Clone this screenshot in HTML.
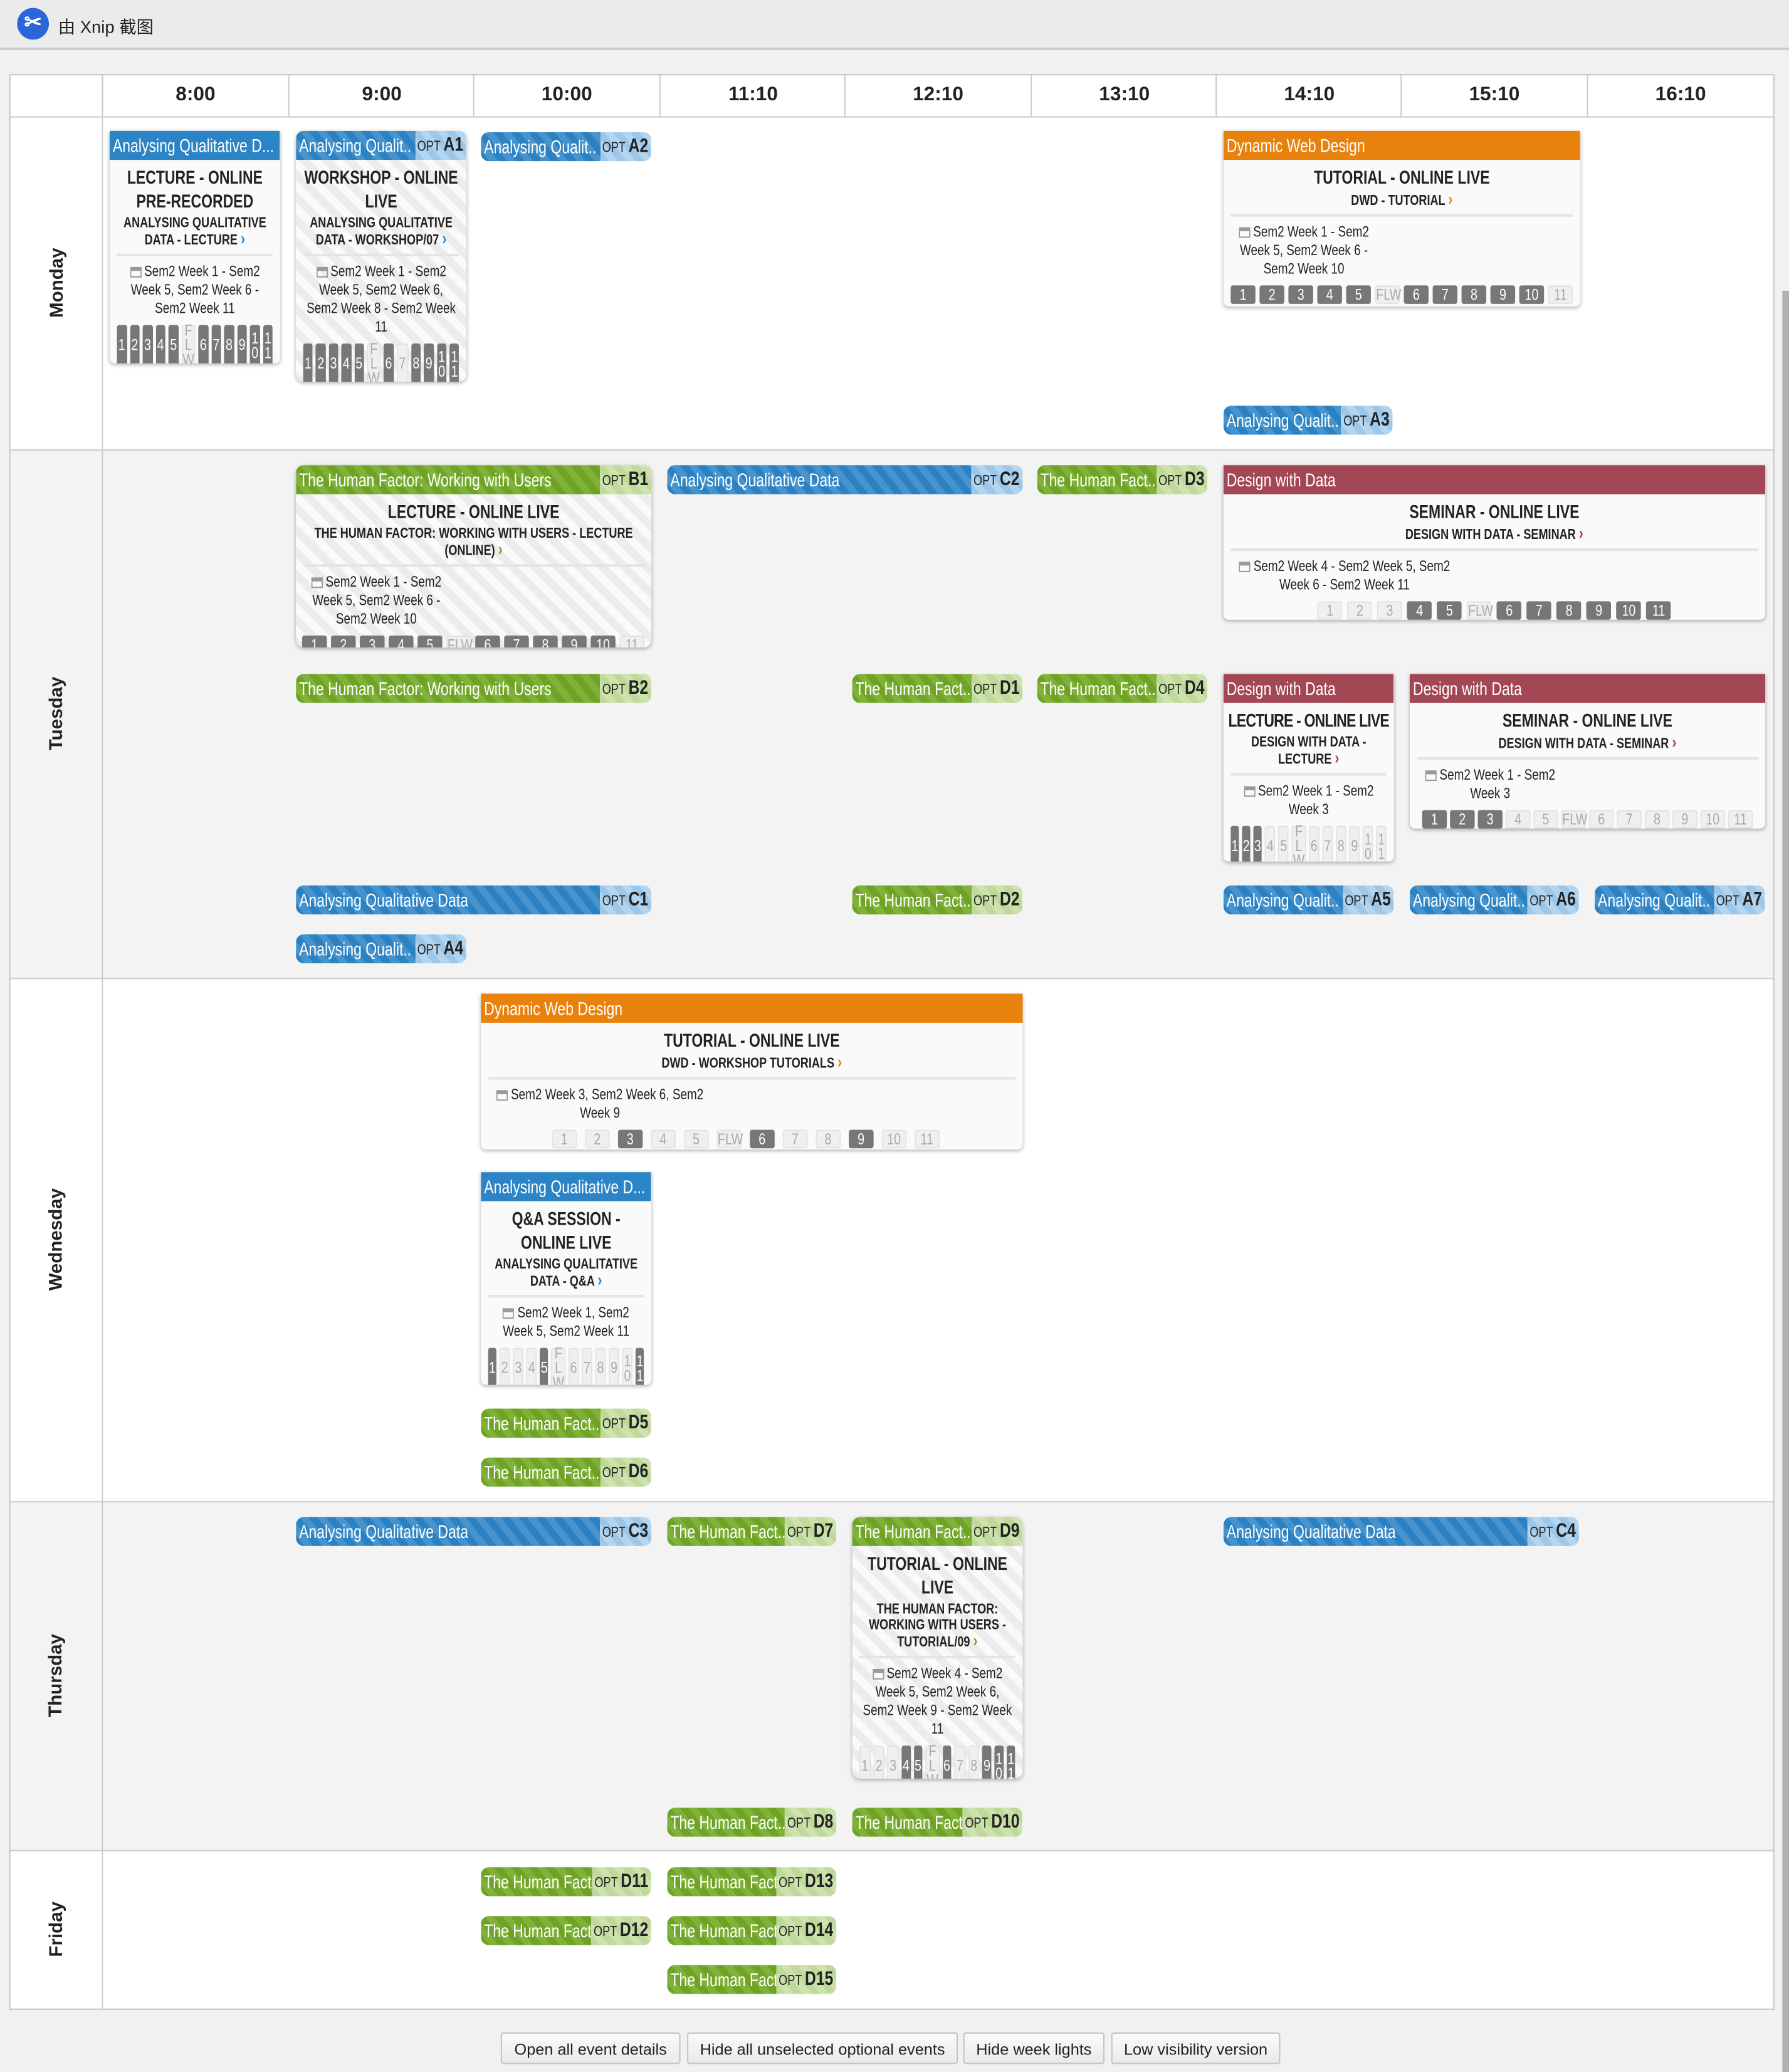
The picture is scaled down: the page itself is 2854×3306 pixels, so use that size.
<!DOCTYPE html>
<html><head><meta charset="utf-8">
<style>
body{margin:0;width:2854px;height:3306px;overflow:hidden;background:#f1f1f1}
#w{position:absolute;left:0;top:0;width:1354px;height:1568px;transform:scale(2.1078,2.1084);transform-origin:0 0;font-family:"Liberation Sans",sans-serif;color:#222}
.a{position:absolute}
.in{width:128.2%;transform:scaleX(.78);transform-origin:0 0}
.pill{position:absolute;height:22px;border-radius:6px;overflow:hidden}
.pill .in{display:flex;height:22px;font-size:14px;line-height:22px}
.n{flex:1;color:#fff;padding-left:3px;white-space:nowrap;overflow:hidden;text-align:left}
.blue .n{background:repeating-linear-gradient(45deg,#2b81c2 0 6px,#4693cd 6px 12px)}
.blue .o{background:repeating-linear-gradient(45deg,#9cc7e9 0 6px,#b3d5f0 6px 12px)}
.green .n{background:repeating-linear-gradient(45deg,#6ea326 0 6px,#80b139 6px 12px)}
.green .o{background:repeating-linear-gradient(45deg,#bfd99a 0 6px,#cde2ad 6px 12px)}
.o{color:#222;font-size:11px;padding:0 3px 0 2px;white-space:nowrap}
.o b{font-size:15px}
.card{position:absolute;background:#fafafa;box-shadow:0 1px 3px rgba(0,0,0,.3);border-radius:0 0 4px 4px;text-align:center;overflow:hidden}
.card.opt{background:repeating-linear-gradient(45deg,#ececec 0 6px,#fafafa 6px 12px);border-radius:6px}
.card .pill{position:relative;border-radius:0;width:100%}
.card .pill .in{width:100%;transform:none}
.hd{height:22px;line-height:22px;color:#fff;font-size:14px;text-align:left;padding-left:3px;white-space:nowrap;overflow:hidden}
.t{font-weight:bold;font-size:14px;line-height:18px;margin-top:4px}
.s{font-weight:bold;font-size:11px;line-height:12px;padding-bottom:4px;border-bottom:2px solid #e4e4e4;margin:2px 7px 0}
.s i{font-style:normal;font-size:13px}
.d{font-size:11.5px;line-height:14px;margin:5px 7px 5px}
.d:before{content:"";display:inline-block;width:11px;height:8px;border:1px solid #999;border-top:3px solid #999;margin-right:3px;vertical-align:-1px;box-sizing:border-box}
.wk{display:flex;gap:3px;margin:0 7px}
.wk i{flex:1;font-style:normal;height:31px;border-radius:2px;font-size:12px;line-height:11px;display:flex;align-items:center;justify-content:center;text-align:center;background:#777;color:#fff}
.wk i.l{background:#efefef;color:#aaa;border:1px solid #e2e2e2;box-sizing:border-box}
.wh{display:flex;gap:4px;justify-content:center}
.wh i{width:24px;height:14px;font-style:normal;font-size:12px;line-height:14px;background:#777;color:#fff;border-radius:2px}
.wh i.l{background:#efefef;color:#aaa;border:1px solid #e2e2e2;box-sizing:border-box;line-height:12px}
.btn{position:absolute;top:1538px;height:24px;line-height:24px;font-size:12px;text-align:center;background:linear-gradient(#fafafa,#eaeaea);border:1px solid #c4c4c4;border-radius:2px;box-sizing:border-box;white-space:nowrap}
.day{position:absolute;left:7px;width:70px;display:flex;align-items:center;justify-content:center}
.day span{transform:rotate(-90deg);font-weight:bold;font-size:14px;white-space:nowrap}
.tm{position:absolute;top:56px;height:32px;line-height:32px;width:140px;text-align:center;font-weight:bold;font-size:15px;border-left:1px solid #ccc}
</style></head><body><div id="w">

<div class="a" style="left:0;top:0;width:1354px;height:36px;background:#ebebeb;border-bottom:2px solid #cdcdcd"></div>
<div class="a" style="left:13px;top:6px;width:24px;height:24px;border-radius:50%;background:#2a66d8;color:#fff;font-size:16px;line-height:24px;text-align:center;font-weight:bold">✂</div>
<div class="a" style="left:44px;top:10px;font-size:13px;font-family:'Liberation Sans','Noto Sans CJK SC',sans-serif">由 Xnip 截图</div>

<div class="a" style="left:7px;top:56px;width:1334px;height:1463px;background:#fff;border:1px solid #c8c8c8"></div>
<div class="a" style="left:8px;top:341px;width:1334px;height:399px;background:#f3f3f3"></div>
<div class="a" style="left:8px;top:1137px;width:1334px;height:263px;background:#f3f3f3"></div>
<div class="a" style="left:7px;top:88px;width:1335px;border-top:1px solid #ccc"></div>
<div class="a" style="left:7px;top:340px;width:1335px;border-top:1px solid #ccc"></div>
<div class="a" style="left:7px;top:740px;width:1335px;border-top:1px solid #ccc"></div>
<div class="a" style="left:7px;top:1136px;width:1335px;border-top:1px solid #ccc"></div>
<div class="a" style="left:7px;top:1400px;width:1335px;border-top:1px solid #ccc"></div>
<div class="a" style="left:77px;top:56px;height:1464px;border-left:1px solid #ccc"></div>
<div class="tm" style="left:77px">8:00</div><div class="tm" style="left:218px">9:00</div><div class="tm" style="left:358px">10:00</div><div class="tm" style="left:499px">11:10</div><div class="tm" style="left:639px">12:10</div><div class="tm" style="left:780px">13:10</div><div class="tm" style="left:920px">14:10</div><div class="tm" style="left:1060px">15:10</div><div class="tm" style="left:1201px">16:10</div>

<div class="day" style="top:88px;height:252px"><span>Monday</span></div>
<div class="day" style="top:340px;height:400px"><span>Tuesday</span></div>
<div class="day" style="top:740px;height:396px"><span>Wednesday</span></div>
<div class="day" style="top:1136px;height:264px"><span>Thursday</span></div>
<div class="day" style="top:1400px;height:120px"><span>Friday</span></div>

<!-- Monday -->
<div class="card" style="left:83px;top:99px;width:129px;height:176px"><div class="in">
<div class="hd" style="background:#2a84c6">Analysing Qualitative D...</div>
<div class="t">LECTURE - ONLINE<br>PRE-RECORDED</div>
<div class="s">ANALYSING QUALITATIVE DATA - LECTURE <i style="color:#2a84c6">›</i></div>
<div class="d">Sem2 Week 1 - Sem2 Week 5, Sem2 Week 6 - Sem2 Week 11</div>
<div class="wk"><i>1</i><i>2</i><i>3</i><i>4</i><i>5</i><i class="l">F<br>L<br>W</i><i>6</i><i>7</i><i>8</i><i>9</i><i>1<br>0</i><i>1<br>1</i></div>
</div></div>
<div class="card opt" style="left:224px;top:99px;width:129px;height:190px"><div class="in">
<div class="pill blue"><div class="in"><div class="n">Analysing Qualit..</div><div class="o">OPT <b>A1</b></div></div></div>
<div class="t">WORKSHOP - ONLINE<br>LIVE</div>
<div class="s">ANALYSING QUALITATIVE DATA - WORKSHOP/07 <i style="color:#2a84c6">›</i></div>
<div class="d">Sem2 Week 1 - Sem2 Week 5, Sem2 Week 6, Sem2 Week 8 - Sem2 Week 11</div>
<div class="wk"><i>1</i><i>2</i><i>3</i><i>4</i><i>5</i><i class="l">F<br>L<br>W</i><i>6</i><i class="l">7</i><i>8</i><i>9</i><i>1<br>0</i><i>1<br>1</i></div>
</div></div>
<div class="pill blue" style="left:364px;top:100px;width:129px"><div class="in"><div class="n">Analysing Qualit..</div><div class="o">OPT <b>A2</b></div></div></div>
<div class="card" style="left:926px;top:99px;width:270px;height:133px"><div class="in">
<div class="hd" style="background:#e9820c">Dynamic Web Design</div>
<div class="t">TUTORIAL - ONLINE LIVE</div>
<div class="s">DWD - TUTORIAL <i style="color:#e9820c">›</i></div>
<div class="d" style="width:136px;margin-left:10px">Sem2 Week 1 - Sem2 Week 5, Sem2 Week 6 - Sem2 Week 10</div>
<div class="wh"><i>1</i><i>2</i><i>3</i><i>4</i><i>5</i><i class="l">FLW</i><i>6</i><i>7</i><i>8</i><i>9</i><i>10</i><i class="l">11</i></div>
</div></div>
<div class="pill blue" style="left:926px;top:307px;width:128px"><div class="in"><div class="n">Analysing Qualit..</div><div class="o">OPT <b>A3</b></div></div></div>

<!-- Tuesday -->
<div class="card opt" style="left:224px;top:352px;width:269px;height:138px"><div class="in">
<div class="pill green"><div class="in"><div class="n">The Human Factor: Working with Users</div><div class="o">OPT <b>B1</b></div></div></div>
<div class="t">LECTURE - ONLINE LIVE</div>
<div class="s">THE HUMAN FACTOR: WORKING WITH USERS - LECTURE (ONLINE) <i style="color:#6ea326">›</i></div>
<div class="d" style="width:136px;margin-left:10px">Sem2 Week 1 - Sem2 Week 5, Sem2 Week 6 - Sem2 Week 10</div>
<div class="wh" style="justify-content:flex-start;margin-left:6px"><i>1</i><i>2</i><i>3</i><i>4</i><i>5</i><i class="l">FLW</i><i>6</i><i>7</i><i>8</i><i>9</i><i>10</i><i class="l">11</i></div>
</div></div>
<div class="pill blue" style="left:505px;top:352px;width:269px"><div class="in"><div class="n">Analysing Qualitative Data</div><div class="o">OPT <b>C2</b></div></div></div>
<div class="pill green" style="left:785px;top:352px;width:129px"><div class="in"><div class="n">The Human Fact..</div><div class="o">OPT <b>D3</b></div></div></div>
<div class="card" style="left:926px;top:352px;width:410px;height:117px"><div class="in">
<div class="hd" style="background:#a24753">Design with Data</div>
<div class="t">SEMINAR - ONLINE LIVE</div>
<div class="s">DESIGN WITH DATA - SEMINAR <i style="color:#a24753">›</i></div>
<div class="d" style="width:215px;margin-left:10px">Sem2 Week 4 - Sem2 Week 5, Sem2 Week 6 - Sem2 Week 11</div>
<div class="wh" style="gap:5px"><i class="l">1</i><i class="l">2</i><i class="l">3</i><i>4</i><i>5</i><i class="l">FLW</i><i>6</i><i>7</i><i>8</i><i>9</i><i>10</i><i>11</i></div>
</div></div>
<div class="pill green" style="left:224px;top:510px;width:269px"><div class="in"><div class="n">The Human Factor: Working with Users</div><div class="o">OPT <b>B2</b></div></div></div>
<div class="pill green" style="left:645px;top:510px;width:129px"><div class="in"><div class="n">The Human Fact..</div><div class="o">OPT <b>D1</b></div></div></div>
<div class="pill green" style="left:785px;top:510px;width:129px"><div class="in"><div class="n">The Human Fact..</div><div class="o">OPT <b>D4</b></div></div></div>
<div class="card" style="left:926px;top:510px;width:129px;height:142px"><div class="in">
<div class="hd" style="background:#a24753">Design with Data</div>
<div class="t" style="letter-spacing:-0.5px;white-space:nowrap">LECTURE - ONLINE LIVE</div>
<div class="s">DESIGN WITH DATA - LECTURE <i style="color:#a24753">›</i></div>
<div class="d">Sem2 Week 1 - Sem2 Week 3</div>
<div class="wk"><i>1</i><i>2</i><i>3</i><i class="l">4</i><i class="l">5</i><i class="l">F<br>L<br>W</i><i class="l">6</i><i class="l">7</i><i class="l">8</i><i class="l">9</i><i class="l">1<br>0</i><i class="l">1<br>1</i></div>
</div></div>
<div class="card" style="left:1067px;top:510px;width:269px;height:117px"><div class="in">
<div class="hd" style="background:#a24753">Design with Data</div>
<div class="t">SEMINAR - ONLINE LIVE</div>
<div class="s">DESIGN WITH DATA - SEMINAR <i style="color:#a24753">›</i></div>
<div class="d" style="width:136px;margin-left:10px">Sem2 Week 1 - Sem2 Week 3</div>
<div class="wh" style="gap:3px"><i>1</i><i>2</i><i>3</i><i class="l">4</i><i class="l">5</i><i class="l">FLW</i><i class="l">6</i><i class="l">7</i><i class="l">8</i><i class="l">9</i><i class="l">10</i><i class="l">11</i></div>
</div></div>
<div class="pill blue" style="left:224px;top:670px;width:269px"><div class="in"><div class="n">Analysing Qualitative Data</div><div class="o">OPT <b>C1</b></div></div></div>
<div class="pill green" style="left:645px;top:670px;width:129px"><div class="in"><div class="n">The Human Fact..</div><div class="o">OPT <b>D2</b></div></div></div>
<div class="pill blue" style="left:926px;top:670px;width:129px"><div class="in"><div class="n">Analysing Qualit..</div><div class="o">OPT <b>A5</b></div></div></div>
<div class="pill blue" style="left:1067px;top:670px;width:128px"><div class="in"><div class="n">Analysing Qualit..</div><div class="o">OPT <b>A6</b></div></div></div>
<div class="pill blue" style="left:1207px;top:670px;width:129px"><div class="in"><div class="n">Analysing Qualit..</div><div class="o">OPT <b>A7</b></div></div></div>
<div class="pill blue" style="left:224px;top:707px;width:129px"><div class="in"><div class="n">Analysing Qualit..</div><div class="o">OPT <b>A4</b></div></div></div>

<!-- Wednesday -->
<div class="card" style="left:364px;top:752px;width:410px;height:118px"><div class="in">
<div class="hd" style="background:#e9820c">Dynamic Web Design</div>
<div class="t">TUTORIAL - ONLINE LIVE</div>
<div class="s">DWD - WORKSHOP TUTORIALS <i style="color:#e9820c">›</i></div>
<div class="d" style="width:205px;margin-left:13px">Sem2 Week 3, Sem2 Week 6, Sem2 Week 9</div>
<div class="wh" style="gap:8px;margin-left:-12px"><i class="l">1</i><i class="l">2</i><i>3</i><i class="l">4</i><i class="l">5</i><i class="l">FLW</i><i>6</i><i class="l">7</i><i class="l">8</i><i>9</i><i class="l">10</i><i class="l">11</i></div>
</div></div>
<div class="card" style="left:364px;top:887px;width:129px;height:161px"><div class="in">
<div class="hd" style="background:#2a84c6">Analysing Qualitative D...</div>
<div class="t">Q&amp;A SESSION -<br>ONLINE LIVE</div>
<div class="s">ANALYSING QUALITATIVE DATA - Q&amp;A <i style="color:#2a84c6">›</i></div>
<div class="d">Sem2 Week 1, Sem2 Week 5, Sem2 Week 11</div>
<div class="wk"><i>1</i><i class="l">2</i><i class="l">3</i><i class="l">4</i><i>5</i><i class="l">F<br>L<br>W</i><i class="l">6</i><i class="l">7</i><i class="l">8</i><i class="l">9</i><i class="l">1<br>0</i><i>1<br>1</i></div>
</div></div>
<div class="pill green" style="left:364px;top:1066px;width:129px"><div class="in"><div class="n">The Human Fact..</div><div class="o">OPT <b>D5</b></div></div></div>
<div class="pill green" style="left:364px;top:1103px;width:129px"><div class="in"><div class="n">The Human Fact..</div><div class="o">OPT <b>D6</b></div></div></div>

<!-- Thursday -->
<div class="pill blue" style="left:224px;top:1148px;width:269px"><div class="in"><div class="n">Analysing Qualitative Data</div><div class="o">OPT <b>C3</b></div></div></div>
<div class="pill green" style="left:505px;top:1148px;width:128px"><div class="in"><div class="n">The Human Fact..</div><div class="o">OPT <b>D7</b></div></div></div>
<div class="card opt" style="left:645px;top:1148px;width:129px;height:198px"><div class="in">
<div class="pill green"><div class="in"><div class="n">The Human Fact..</div><div class="o">OPT <b>D9</b></div></div></div>
<div class="t">TUTORIAL - ONLINE<br>LIVE</div>
<div class="s">THE HUMAN FACTOR: WORKING WITH USERS - TUTORIAL/09 <i style="color:#6ea326">›</i></div>
<div class="d">Sem2 Week 4 - Sem2 Week 5, Sem2 Week 6, Sem2 Week 9 - Sem2 Week 11</div>
<div class="wk"><i class="l">1</i><i class="l">2</i><i class="l">3</i><i>4</i><i>5</i><i class="l">F<br>L<br>W</i><i>6</i><i class="l">7</i><i class="l">8</i><i>9</i><i>1<br>0</i><i>1<br>1</i></div>
</div></div>
<div class="pill blue" style="left:926px;top:1148px;width:269px"><div class="in"><div class="n">Analysing Qualitative Data</div><div class="o">OPT <b>C4</b></div></div></div>
<div class="pill green" style="left:505px;top:1368px;width:128px"><div class="in"><div class="n">The Human Fact..</div><div class="o">OPT <b>D8</b></div></div></div>
<div class="pill green" style="left:645px;top:1368px;width:129px"><div class="in"><div class="n">The Human Fact</div><div class="o">OPT <b>D10</b></div></div></div>

<!-- Friday -->
<div class="pill green" style="left:364px;top:1413px;width:129px"><div class="in"><div class="n">The Human Fact</div><div class="o">OPT <b>D11</b></div></div></div>
<div class="pill green" style="left:505px;top:1413px;width:128px"><div class="in"><div class="n">The Human Fact</div><div class="o">OPT <b>D13</b></div></div></div>
<div class="pill green" style="left:364px;top:1450px;width:129px"><div class="in"><div class="n">The Human Fact</div><div class="o">OPT <b>D12</b></div></div></div>
<div class="pill green" style="left:505px;top:1450px;width:128px"><div class="in"><div class="n">The Human Fact</div><div class="o">OPT <b>D14</b></div></div></div>
<div class="pill green" style="left:505px;top:1487px;width:128px"><div class="in"><div class="n">The Human Fact</div><div class="o">OPT <b>D15</b></div></div></div>

<div class="btn" style="left:379px;width:136px">Open all event details</div>
<div class="btn" style="left:520px;width:205px">Hide all unselected optional events</div>
<div class="btn" style="left:729px;width:107px">Hide week lights</div>
<div class="btn" style="left:841px;width:128px">Low visibility version</div>

<div class="a" style="left:1349px;top:220px;width:5px;height:1348px;background:#b0b0b0"></div>
</div></body></html>
